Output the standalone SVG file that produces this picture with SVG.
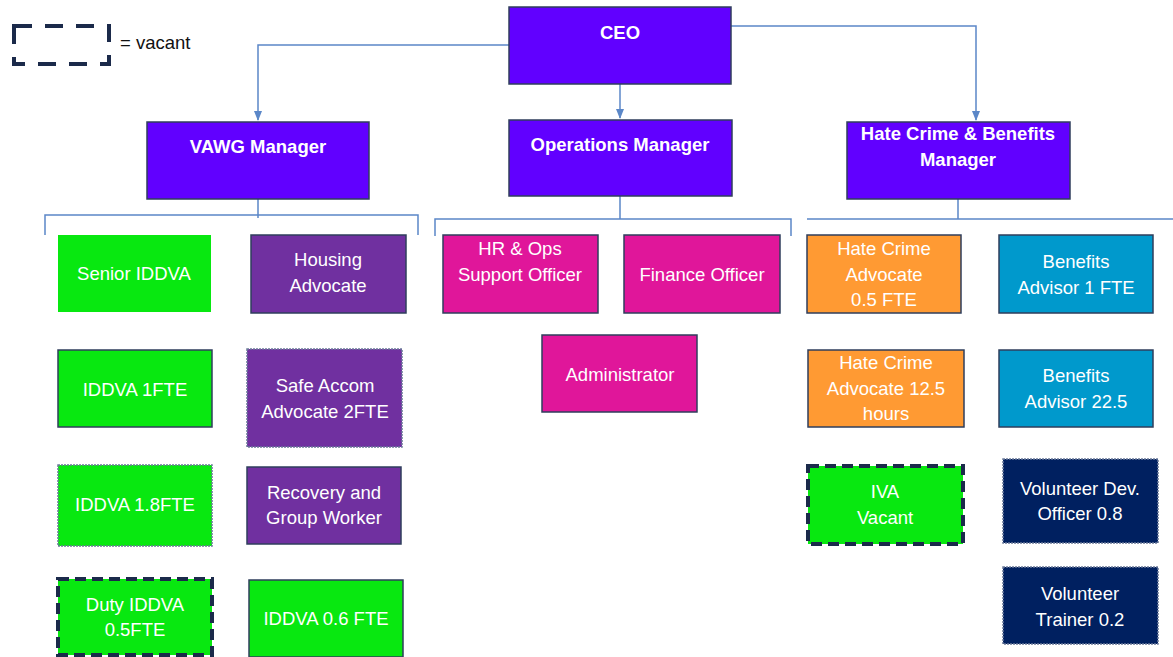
<svg xmlns="http://www.w3.org/2000/svg" width="1173" height="657" viewBox="0 0 1173 657">
<style>
.b{stroke:#2F3E5C;stroke-width:1.5}
.mgr{fill:#6100FF}
.grn{fill:#08E810}
.pur{fill:#7030A0}
.mag{fill:#E0169A}
.org{fill:#FF9A33}
.blu{fill:#0099CC}
.nav{fill:#002060}
.vac{stroke:#1B2A4A;stroke-width:4;stroke-dasharray:11 6}
.dot{stroke:#6B7A99;stroke-width:1.5;stroke-dasharray:2 1}
.t{font-family:"Liberation Sans",Arial,sans-serif;font-size:18.5px;fill:#fff;text-anchor:middle}
.h{font-weight:bold}
.c{fill:none;stroke:#5B87C8;stroke-width:1.5}
</style>
<defs>
<marker id="ar" markerWidth="10" markerHeight="8" refX="9" refY="4" orient="auto" markerUnits="userSpaceOnUse">
<path d="M0,0 L10,4 L0,8 Z" fill="#5B87C8"/>
</marker>
</defs>
<rect width="1173" height="657" fill="#fff"/>
<g id="legend">
<rect x="14" y="26" width="95" height="38" fill="none" stroke="#1B2A4A" stroke-width="4" stroke-dasharray="18 13"/>
<text x="120" y="49" font-family="Liberation Sans,Arial,sans-serif" font-size="18.5" fill="#111">= vacant</text>
</g>
<g id="connectors">
<path class="c" d="M509,45 H258 V120" marker-end="url(#ar)"/>
<path class="c" d="M731,26 H976 V120" marker-end="url(#ar)"/>
<path class="c" d="M620,84 V118" marker-end="url(#ar)"/>
<path class="c" d="M258,199 V218 M45,235 V215 H418 V235"/>
<path class="c" d="M620,196 V219 M435,236 V219 H791 V236"/>
<path class="c" d="M958,199 V219 M807,219 H1173"/>
</g>
<g id="ceo"><rect class="mgr b" x="509" y="7" width="222" height="77"/><text class="t h" x="620" y="39">CEO</text></g>
<g id="vawg"><rect class="mgr b" x="147" y="122" width="222" height="77"/><text class="t h" x="258" y="153">VAWG Manager</text></g>
<g id="ops"><rect class="mgr b" x="509" y="120" width="223" height="76"/><text class="t h" x="620" y="151">Operations Manager</text></g>
<g id="hcb"><rect class="mgr b" x="847" y="122" width="223" height="77"/><text class="t h" x="958" y="140">Hate Crime &amp; Benefits</text><text class="t h" x="958" y="166">Manager</text></g>

<g id="senior-iddva"><rect class="grn" x="58" y="235" width="153" height="77"/><text class="t" x="134" y="280">Senior IDDVA</text></g>
<g id="housing"><rect class="pur b" x="251" y="235" width="155" height="78"/><text class="t" x="328" y="266">Housing</text><text class="t" x="328" y="292">Advocate</text></g>
<g id="iddva1"><rect class="grn b" x="58" y="350" width="154" height="77"/><text class="t" x="135" y="396">IDDVA 1FTE</text></g>
<g id="safe"><rect class="pur dot" x="247" y="349" width="155" height="98"/><text class="t" x="325" y="392">Safe Accom</text><text class="t" x="325" y="418">Advocate 2FTE</text></g>
<g id="iddva18"><rect class="grn dot" x="58" y="465" width="154" height="81"/><text class="t" x="135" y="511">IDDVA 1.8FTE</text></g>
<g id="recovery"><rect class="pur b" x="247" y="467" width="154" height="77"/><text class="t" x="324" y="499">Recovery and</text><text class="t" x="324" y="524">Group Worker</text></g>
<g id="duty"><rect class="grn vac" x="58" y="579" width="154" height="76"/><text class="t" x="135" y="611">Duty IDDVA</text><text class="t" x="135" y="636">0.5FTE</text></g>
<g id="iddva06"><rect class="grn b" x="249" y="580" width="154" height="77"/><text class="t" x="326" y="625">IDDVA 0.6 FTE</text></g>

<g id="hr"><rect class="mag b" x="443" y="235" width="155" height="78"/><text class="t" x="520" y="255">HR &amp; Ops</text><text class="t" x="520" y="281">Support Officer</text></g>
<g id="finance"><rect class="mag b" x="624" y="235" width="156" height="78"/><text class="t" x="702" y="281">Finance Officer</text></g>
<g id="admin"><rect class="mag b" x="542" y="335" width="155" height="77"/><text class="t" x="620" y="381">Administrator</text></g>

<g id="hca05"><rect class="org b" x="807" y="235" width="154" height="78"/><text class="t" x="884" y="255">Hate Crime</text><text class="t" x="884" y="281">Advocate</text><text class="t" x="884" y="306">0.5 FTE</text></g>
<g id="ba1"><rect class="blu b" x="999" y="235" width="154" height="78"/><text class="t" x="1076" y="268">Benefits</text><text class="t" x="1076" y="294">Advisor 1 FTE</text></g>
<g id="hca125"><rect class="org b" x="808" y="350" width="156" height="77"/><text class="t" x="886" y="369">Hate Crime</text><text class="t" x="886" y="395">Advocate 12.5</text><text class="t" x="886" y="420">hours</text></g>
<g id="ba225"><rect class="blu b" x="999" y="350" width="154" height="77"/><text class="t" x="1076" y="382">Benefits</text><text class="t" x="1076" y="408">Advisor 22.5</text></g>
<g id="iva"><rect class="grn vac" x="808" y="466" width="155" height="78"/><text class="t" x="885" y="498">IVA</text><text class="t" x="885" y="524">Vacant</text></g>
<g id="vdo"><rect class="nav dot" x="1003" y="459" width="155" height="84"/><text class="t" x="1080" y="495">Volunteer Dev.</text><text class="t" x="1080" y="520">Officer 0.8</text></g>
<g id="vt"><rect class="nav dot" x="1003" y="567" width="155" height="77"/><text class="t" x="1080" y="600">Volunteer</text><text class="t" x="1080" y="626">Trainer 0.2</text></g>
</svg>
